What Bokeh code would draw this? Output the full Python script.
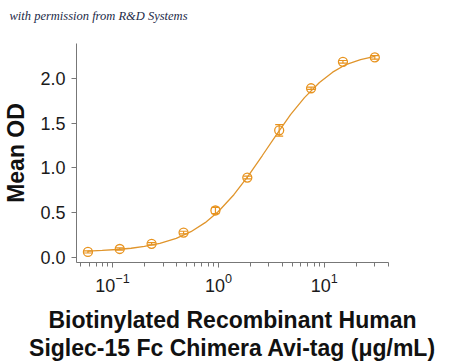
from bokeh.plotting import figure
from bokeh.models import Range1d, Whisker, TeeHead, ColumnDataSource, Title, LogTicker
from bokeh.embed import file_html
from bokeh.resources import INLINE

# data
conc = [30, 15, 7.5, 3.75, 1.875, 0.9375, 0.469, 0.234, 0.117, 0.0586]
mean_od = [2.235, 2.185, 1.89, 1.42, 0.893, 0.525, 0.278, 0.153, 0.095, 0.062]
err = [0.02, 0.015, 0.012, 0.065, 0.015, 0.035, 0.015, 0.012, 0.012, 0.012]

# fitted curve
curve_x = [0.0586, 0.08, 0.11, 0.15, 0.2, 0.28, 0.4, 0.55, 0.75, 1.0, 1.4, 1.9,
           2.6, 3.5, 4.8, 6.5, 9, 12, 16, 22, 30]
curve_y = [0.072, 0.079, 0.089, 0.103, 0.123, 0.158, 0.214, 0.288, 0.389, 0.514,
           0.701, 0.906, 1.139, 1.364, 1.595, 1.785, 1.955, 2.07, 2.155, 2.21, 2.245]

y_ticks = [0.0, 0.5, 1.0, 1.5, 2.0]
x_title = "Biotinylated Recombinant Human\nSiglec-15 Fc Chimera Avi-tag (\u03bcg/mL)"
note_text = "with permission from R&D Systems"

ORANGE = "#E8931E"
AXIS = "#777777"

p = figure(width=442, height=364, x_axis_type="log",
           x_range=Range1d(0.0457, 40.4), y_range=Range1d(-0.056, 2.39),
           output_backend="svg", toolbar_location=None,
           min_border_left=69, min_border_right=54, min_border_top=43, min_border_bottom=0)
p.outline_line_color = None
p.grid.visible = False
p.background_fill_color = "white"
p.border_fill_color = "white"

p.line(curve_x, curve_y, line_color="#E0952C", line_width=1.3)

src = ColumnDataSource(dict(x=conc, y=mean_od,
                            lo=[m - e for m, e in zip(mean_od, err)],
                            hi=[m + e for m, e in zip(mean_od, err)]))
w = Whisker(source=src, base="x", lower="lo", upper="hi", line_color=ORANGE, line_width=1.2,
            upper_head=TeeHead(size=8, line_color=ORANGE, line_width=1.2),
            lower_head=TeeHead(size=8, line_color=ORANGE, line_width=1.2))
p.add_layout(w)
p.scatter("x", "y", source=src, marker="circle", size=9, fill_color=None,
          line_color=ORANGE, line_width=1.3)

for ax in (p.xaxis[0], p.yaxis[0]):
    ax.axis_line_color = AXIS
    ax.major_tick_line_color = AXIS
    ax.minor_tick_line_color = AXIS
    ax.major_tick_in = 0
    ax.major_tick_out = 5
    ax.minor_tick_in = 0
    ax.minor_tick_out = 4
    ax.major_label_text_font = "Liberation Sans"
    ax.major_label_text_font_size = "18px"
    ax.major_label_text_color = "#1a1a1a"
    ax.axis_label_text_font = "Liberation Sans"
    ax.axis_label_text_font_style = "bold"
    ax.axis_label_text_font_size = "23px"
    ax.axis_label_text_color = "#111111"

p.yaxis.ticker = y_ticks
p.yaxis.minor_tick_line_color = None
p.yaxis.major_label_overrides = {v: f"{v:.1f}" for v in y_ticks}
p.yaxis.axis_label = "Mean OD"
p.yaxis.axis_label_standoff = 8
p.yaxis.major_label_standoff = 6

p.xaxis.ticker = LogTicker(num_minor_ticks=10)
p.xaxis.axis_label = x_title
p.xaxis.axis_label_standoff = 12
p.xaxis.major_label_standoff = 5
p.xaxis.axis_label_text_line_height = 1.1

# spacer between frame and the permission note
spacer = Title(text=" ", text_font_size="12px", standoff=5)
p.add_layout(spacer, "above")
t = Title(text=note_text, text_font="Liberation Serif",
          text_font_style="italic", text_font_size="12.5px", text_color="#1c2a48",
          align="left", vertical_align="bottom", offset=-67, standoff=0)
p.add_layout(t, "above")

open("out.html", "w").write(file_html(p, INLINE))
